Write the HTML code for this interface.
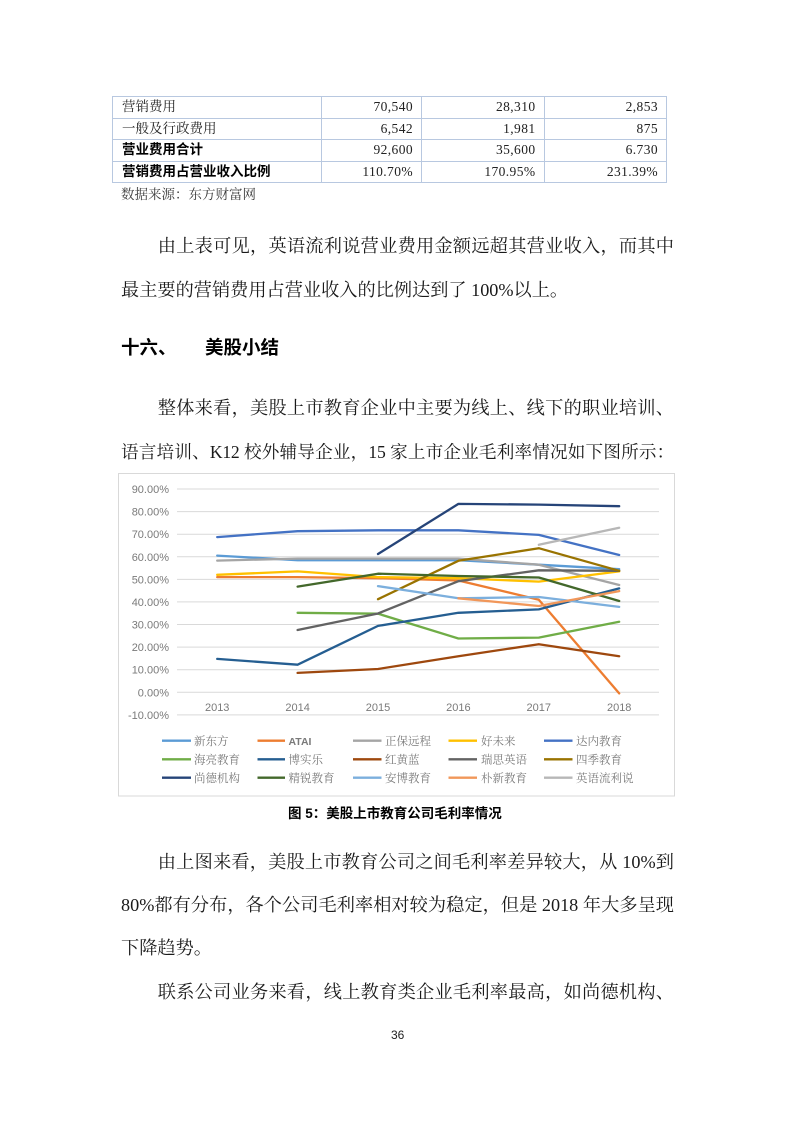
<!DOCTYPE html>
<html>
<head>
<meta charset="utf-8">
<style>
  html,body{margin:0;padding:0;background:#fff;}
  body{width:793px;height:1122px;position:relative;overflow:hidden;
       font-family:"Liberation Serif","Noto Serif CJK SC",serif;color:#1a1a1a;}
  .ln{position:absolute;left:121px;width:553px;font-size:18.2px;line-height:24px;height:24px;
      font-family:"Liberation Serif","Noto Serif CJK SC",serif;color:#1a1a1a;}
  .j{text-align:justify;text-align-last:justify;}
  .ind{text-indent:36.8px;}
  .hd{position:absolute;font-family:"Liberation Sans","Noto Sans CJK SC",sans-serif;font-weight:bold;
      font-size:18.5px;line-height:24px;color:#000;}
  table.t{position:absolute;left:112px;top:96px;border-collapse:collapse;table-layout:fixed;width:554px;
      font-size:13.5px;}
  table.t td{border:1px solid #b8c8e0;height:20.5px;padding:0;line-height:20px;color:#222;}
  table.t td.c0{padding-left:9px;font-family:"Liberation Serif","Noto Serif CJK SC",serif;}
  table.t td.b{font-family:"Liberation Sans","Noto Sans CJK SC",sans-serif;font-weight:bold;color:#000;}
  table.t td.n{text-align:right;padding-right:8px;font-family:"Liberation Serif","Noto Serif CJK SC",serif;letter-spacing:0.4px;}
  .src{position:absolute;left:121px;top:186px;font-size:13.5px;line-height:18px;color:#3a3a3a;
       font-family:"Liberation Serif","Noto Serif CJK SC",serif;}
  .cap{position:absolute;left:288px;top:804px;font-size:13.5px;line-height:20px;font-weight:bold;color:#000;
       font-family:"Liberation Sans","Noto Sans CJK SC",sans-serif;white-space:nowrap;}
  .pn{position:absolute;left:391px;top:1027px;font-size:12px;line-height:16px;color:#222;
      font-family:"Liberation Sans",sans-serif;}
</style>
</head>
<body>

<table class="t">
  <colgroup><col style="width:209px"><col style="width:100px"><col style="width:122.5px"><col style="width:122.5px"></colgroup>
  <tr><td class="c0">营销费用</td><td class="n">70,540</td><td class="n">28,310</td><td class="n">2,853</td></tr>
  <tr><td class="c0">一般及行政费用</td><td class="n">6,542</td><td class="n">1,981</td><td class="n">875</td></tr>
  <tr><td class="c0 b">营业费用合计</td><td class="n">92,600</td><td class="n">35,600</td><td class="n">6.730</td></tr>
  <tr><td class="c0 b">营销费用占营业收入比例</td><td class="n">110.70%</td><td class="n">170.95%</td><td class="n">231.39%</td></tr>
</table>
<div class="src">数据来源：东方财富网</div>

<div class="ln j ind" style="top:234px;">由上表可见，英语流利说营业费用金额远超其营业收入，而其中</div>
<div class="ln" style="top:278px;">最主要的营销费用占营业收入的比例达到了 100%以上。</div>

<div class="hd" style="left:121px;top:336px;">十六、</div>
<div class="hd" style="left:205px;top:336px;">美股小结</div>

<div class="ln j ind" style="top:396px;">整体来看，美股上市教育企业中主要为线上、线下的职业培训、</div>
<div class="ln j" style="top:440px;font-size:17.6px;letter-spacing:-0.25px;">语言培训、K12 校外辅导企业，15 家上市企业毛利率情况如下图所示：</div>

<svg style="position:absolute;left:0;top:0;" width="793" height="1122" viewBox="0 0 793 1122" xmlns="http://www.w3.org/2000/svg">
  <rect x="118.5" y="473.5" width="556" height="322.5" fill="#fff" stroke="#d9d9d9" stroke-width="1"/>
  <g stroke="#d9d9d9" stroke-width="1">
    <line x1="177" x2="659" y1="489.0" y2="489.0"/>
    <line x1="177" x2="659" y1="511.6" y2="511.6"/>
    <line x1="177" x2="659" y1="534.2" y2="534.2"/>
    <line x1="177" x2="659" y1="556.8" y2="556.8"/>
    <line x1="177" x2="659" y1="579.4" y2="579.4"/>
    <line x1="177" x2="659" y1="601.9" y2="601.9"/>
    <line x1="177" x2="659" y1="624.5" y2="624.5"/>
    <line x1="177" x2="659" y1="647.1" y2="647.1"/>
    <line x1="177" x2="659" y1="669.7" y2="669.7"/>
    <line x1="177" x2="659" y1="692.3" y2="692.3"/>
    <line x1="177" x2="659" y1="714.9" y2="714.9"/>
  </g>
  <g font-family="Liberation Sans, sans-serif" font-size="11" fill="#7a7a7a" text-anchor="end">
    <text x="169" y="493">90.00%</text>
    <text x="169" y="515.6">80.00%</text>
    <text x="169" y="538.2">70.00%</text>
    <text x="169" y="560.8">60.00%</text>
    <text x="169" y="583.4">50.00%</text>
    <text x="169" y="605.9">40.00%</text>
    <text x="169" y="628.5">30.00%</text>
    <text x="169" y="651.1">20.00%</text>
    <text x="169" y="673.7">10.00%</text>
    <text x="169" y="696.3">0.00%</text>
    <text x="169" y="718.9">-10.00%</text>
  </g>
  <g font-family="Liberation Sans, sans-serif" font-size="11" fill="#7a7a7a" text-anchor="middle">
    <text x="217.2" y="711">2013</text>
    <text x="297.6" y="711">2014</text>
    <text x="378.0" y="711">2015</text>
    <text x="458.4" y="711">2016</text>
    <text x="538.8" y="711">2017</text>
    <text x="619.2" y="711">2018</text>
  </g>
  <g fill="none" stroke-width="2.3" stroke-linejoin="round" stroke-linecap="round">
    <polyline stroke="#5B9BD5" points="217.2,555.6 297.6,560.2 378.0,560.2 458.4,560.2 538.8,564.7 619.2,569.2"/>
    <polyline stroke="#ED7D31" points="217.2,577.1 297.6,577.1 378.0,578.2 458.4,580.5 538.8,599.7 619.2,693.4"/>
    <polyline stroke="#A5A5A5" points="217.2,560.6 297.6,558.6 378.0,558.6 458.4,558.6 538.8,564.7 619.2,585.0"/>
    <polyline stroke="#FFC000" points="217.2,574.8 297.6,571.4 378.0,577.1 458.4,578.2 538.8,581.6 619.2,571.4"/>
    <polyline stroke="#4472C4" points="217.2,537.1 297.6,531.2 378.0,530.3 458.4,530.3 538.8,534.9 619.2,555.0"/>
    <polyline stroke="#70AD47" points="297.6,612.8 378.0,613.7 458.4,638.5 538.8,637.6 619.2,621.8"/>
    <polyline stroke="#255E91" points="217.2,658.9 297.6,664.7 378.0,625.9 458.4,612.8 538.8,609.4 619.2,588.4"/>
    <polyline stroke="#9E480E" points="297.6,672.9 378.0,669.0 458.4,656.2 538.8,644.2 619.2,656.2"/>
    <polyline stroke="#636363" points="297.6,630.0 378.0,613.5 458.4,581.2 538.8,570.3 619.2,570.8"/>
    <polyline stroke="#997300" points="378.0,599.2 458.4,560.8 538.8,548.2 619.2,570.8"/>
    <polyline stroke="#264478" points="378.0,554.0 458.4,503.9 538.8,504.6 619.2,506.2"/>
    <polyline stroke="#43682B" points="297.6,586.6 378.0,573.7 458.4,576.0 538.8,577.5 619.2,601.0"/>
    <polyline stroke="#7CAFDD" points="378.0,586.1 458.4,598.3 538.8,597.0 619.2,606.9"/>
    <polyline stroke="#F1975A" points="458.4,598.3 538.8,606.0 619.2,591.1"/>
    <polyline stroke="#B7B7B7" points="538.8,544.8 619.2,527.8"/>
  </g>
  <g stroke-width="2.3" stroke-linecap="butt">
    <line x1="162" x2="191" y1="740.7" y2="740.7" stroke="#5B9BD5"/>
    <line x1="257.5" x2="285" y1="740.7" y2="740.7" stroke="#ED7D31"/>
    <line x1="353" x2="381.5" y1="740.7" y2="740.7" stroke="#A5A5A5"/>
    <line x1="448.5" x2="477" y1="740.7" y2="740.7" stroke="#FFC000"/>
    <line x1="544" x2="572.5" y1="740.7" y2="740.7" stroke="#4472C4"/>
    <line x1="162" x2="191" y1="759.3" y2="759.3" stroke="#70AD47"/>
    <line x1="257.5" x2="285" y1="759.3" y2="759.3" stroke="#255E91"/>
    <line x1="353" x2="381.5" y1="759.3" y2="759.3" stroke="#9E480E"/>
    <line x1="448.5" x2="477" y1="759.3" y2="759.3" stroke="#636363"/>
    <line x1="544" x2="572.5" y1="759.3" y2="759.3" stroke="#997300"/>
    <line x1="162" x2="191" y1="777.7" y2="777.7" stroke="#264478"/>
    <line x1="257.5" x2="285" y1="777.7" y2="777.7" stroke="#43682B"/>
    <line x1="353" x2="381.5" y1="777.7" y2="777.7" stroke="#7CAFDD"/>
    <line x1="448.5" x2="477" y1="777.7" y2="777.7" stroke="#F1975A"/>
    <line x1="544" x2="572.5" y1="777.7" y2="777.7" stroke="#B7B7B7"/>
  </g>
  <g font-family="Liberation Sans, Noto Serif CJK SC, serif" font-size="11.5" fill="#7a7a7a">
    <text x="194" y="744.8">新东方</text>
    <text x="288.5" y="744.8" font-weight="bold" font-size="10.5">ATAI</text>
    <text x="385" y="744.8">正保远程</text>
    <text x="481" y="744.8">好未来</text>
    <text x="576" y="744.8">达内教育</text>
    <text x="194" y="763.4">海亮教育</text>
    <text x="288.5" y="763.4">博实乐</text>
    <text x="385" y="763.4">红黄蓝</text>
    <text x="481" y="763.4">瑞思英语</text>
    <text x="576" y="763.4">四季教育</text>
    <text x="194" y="781.8">尚德机构</text>
    <text x="288.5" y="781.8">精锐教育</text>
    <text x="385" y="781.8">安博教育</text>
    <text x="481" y="781.8">朴新教育</text>
    <text x="576" y="781.8">英语流利说</text>
  </g>
</svg>

<div class="cap">图 5：美股上市教育公司毛利率情况</div>

<div class="ln j ind" style="top:850px;">由上图来看，美股上市教育公司之间毛利率差异较大，从 10%到</div>
<div class="ln j" style="top:893px;">80%都有分布，各个公司毛利率相对较为稳定，但是 2018 年大多呈现</div>
<div class="ln" style="top:936px;">下降趋势。</div>
<div class="ln j ind" style="top:980px;">联系公司业务来看，线上教育类企业毛利率最高，如尚德机构、</div>

<div class="pn">36</div>
</body>
</html>
